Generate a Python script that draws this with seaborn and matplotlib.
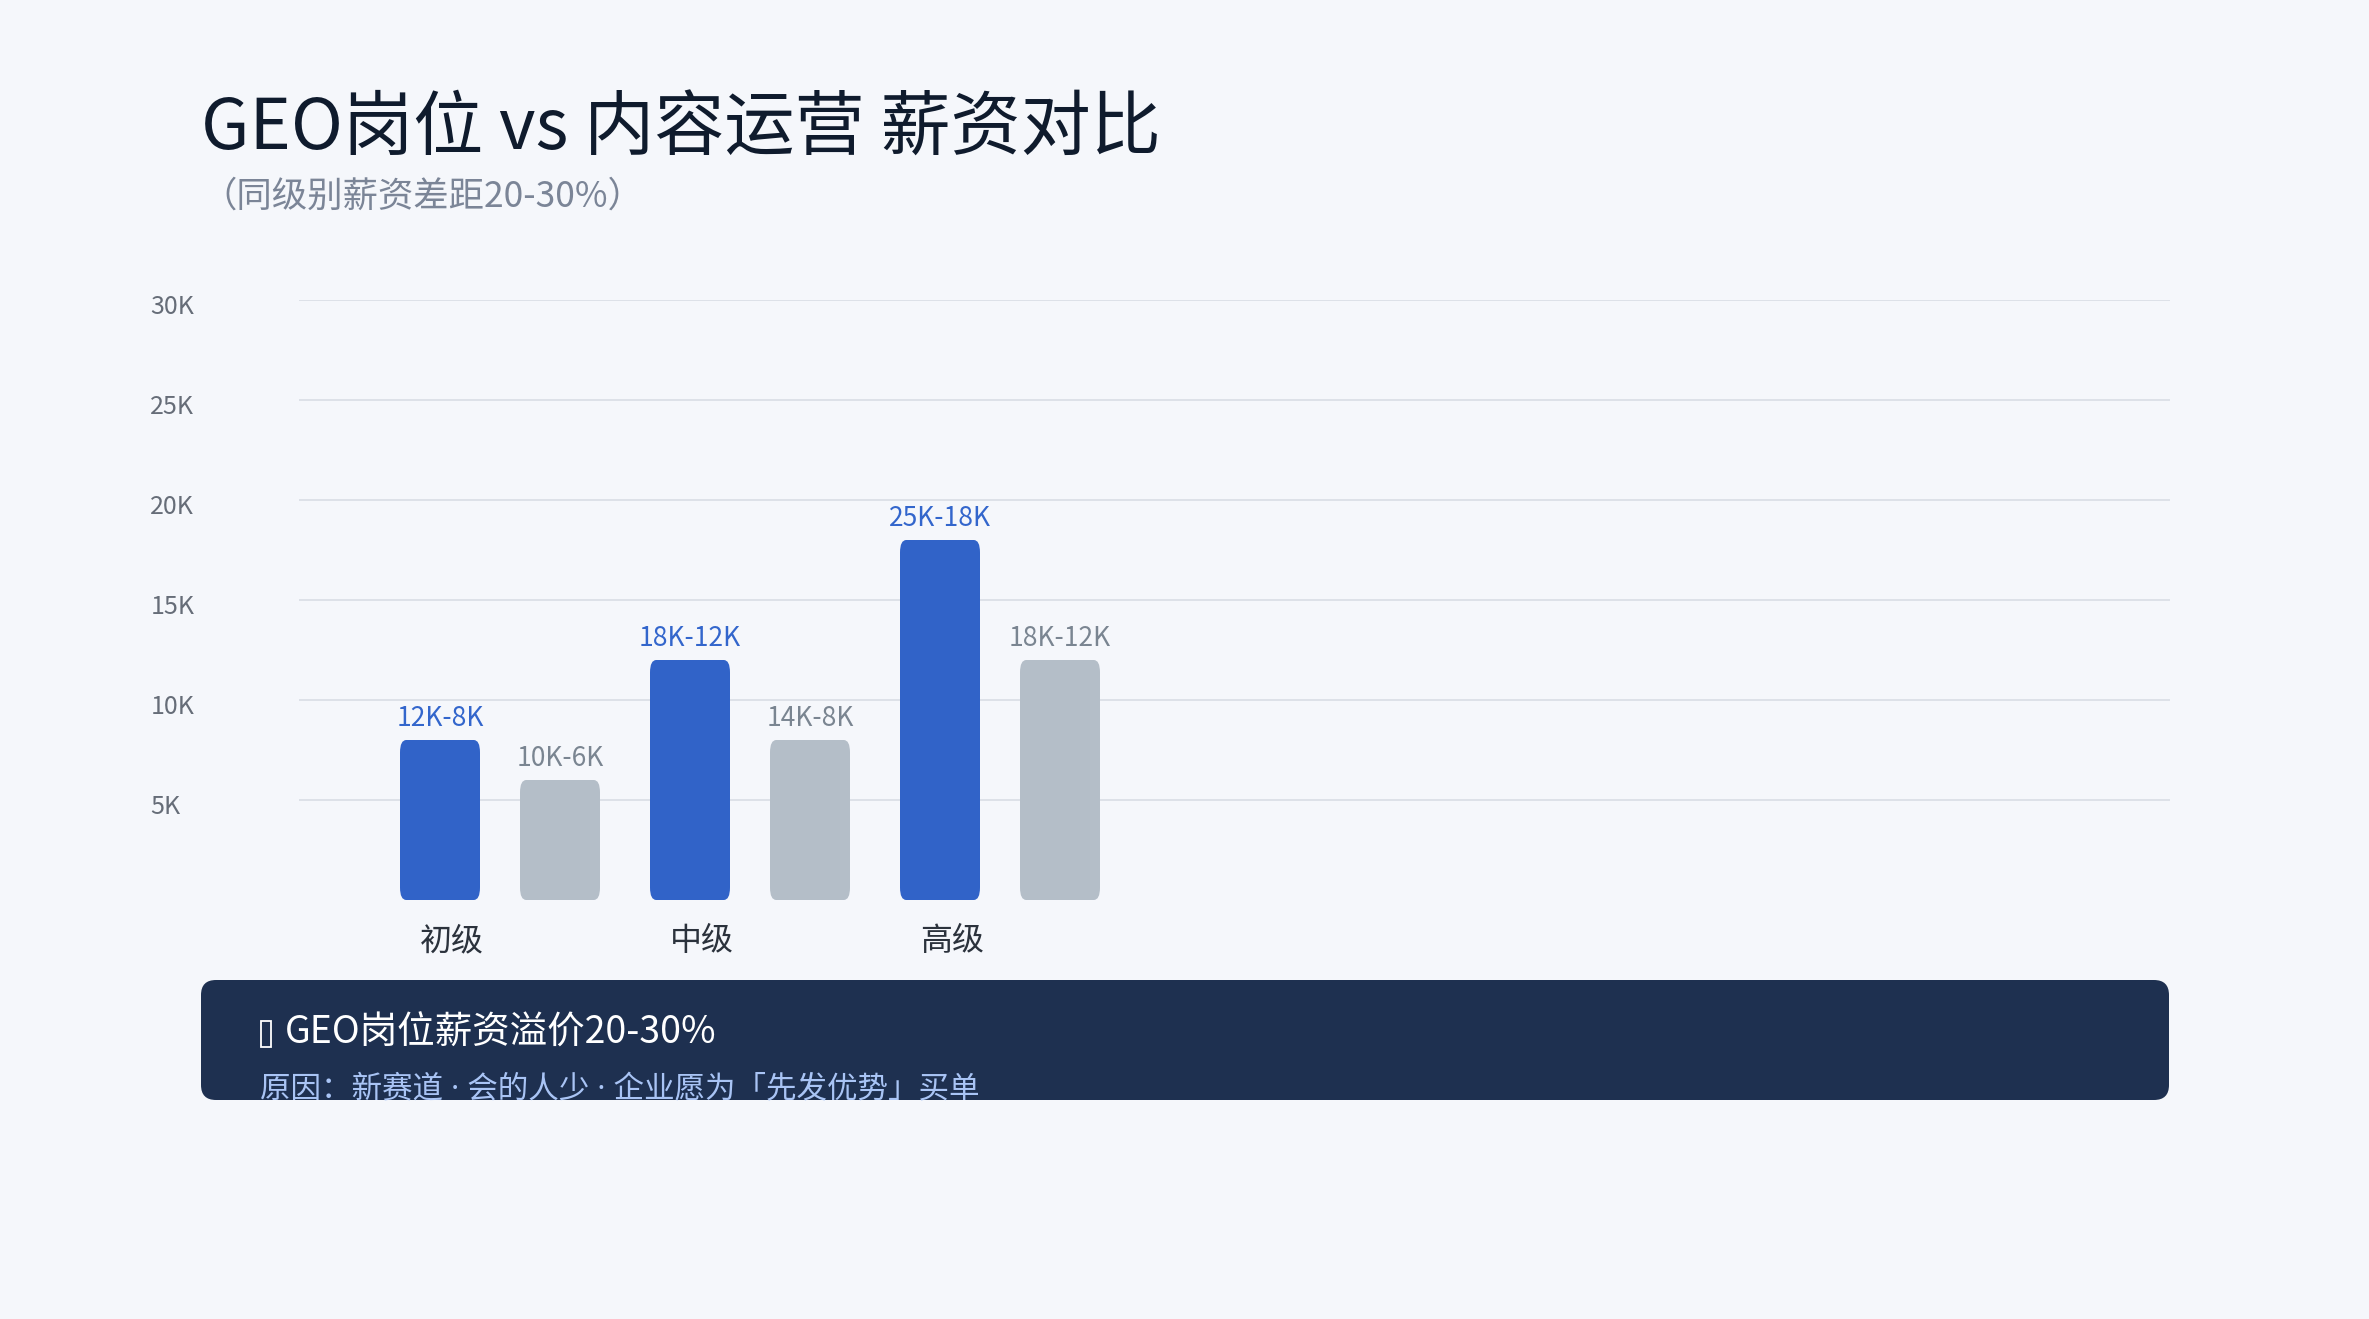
import pandas as pd
import numpy as np
import matplotlib
matplotlib.use('Agg')
import matplotlib.pyplot as plt
import seaborn as sns
from matplotlib.patches import FancyBboxPatch, Rectangle
from matplotlib.transforms import ScaledTranslation

# Data

levels = ['初级', '中级', '高级']
roles = ['GEO岗位', '内容运营']
geo_low = [8, 12, 18]
ops_low = [6, 8, 12]
geo_labels = ['12K-8K', '18K-12K', '25K-18K']
ops_labels = ['10K-6K', '14K-8K', '18K-12K']
y_ticks = [5, 10, 15, 20, 25, 30]
y_tick_labels = ['5K', '10K', '15K', '20K', '25K', '30K']

title = 'GEO岗位 vs 内容运营 薪资对比'
subtitle = '（同级别薪资差距20-30%）'
note_title = 'GEO岗位薪资溢价20-30%'
note_text = '原因：新赛道 · 会的人少 · 企业愿为「先发优势」买单'

df = pd.DataFrame({
    'level': levels * 2,
    'role': [roles[0]] * 3 + [roles[1]] * 3,
    'salary': geo_low + ops_low,
    'label': geo_labels + ops_labels,
})

# Style

bg = '#f5f7fb'
blue = '#3163c8'
gray = '#b4bec8'

sns.set_theme(style='white')
plt.rcParams['font.family'] = ['Noto Sans CJK SC', 'DejaVu Sans']
latin_first = ['Noto Sans', 'Noto Sans CJK SC']

W, H = 2369, 1319
fig = plt.figure(figsize=(W / 100, H / 100), dpi=100, facecolor=bg)
ax = fig.add_axes([299 / W, 1 - 900 / H, (2170 - 299) / W, 600 / H])
ax.set_facecolor(bg)

sns.barplot(data=df, x='level', y='salary', hue='role', order=levels, hue_order=roles,
            palette=[blue, gray], saturation=1, width=0.96, gap=1 / 3,
            legend=False, ax=ax)

# round the bar corners
for bar in list(ax.patches):
    x0, y0 = bar.get_x(), bar.get_y()
    w, h = bar.get_width(), bar.get_height()
    rb = FancyBboxPatch((x0, y0), w, h, boxstyle='round,pad=0,rounding_size=0.025',
                        mutation_aspect=25, facecolor=bar.get_facecolor(),
                        edgecolor='none', zorder=3)
    bar.set_visible(False)
    ax.add_patch(rb)

# value labels
for i, lv in enumerate(levels):
    sub = df[df['level'] == lv]
    for j, role in enumerate(roles):
        row = sub[sub['role'] == role].iloc[0]
        xpos = i + (-0.24 if j == 0 else 0.24)
        ax.annotate(row['label'], (xpos, row['salary']), xytext=(0, 6),
                    textcoords='offset points', ha='center', va='bottom',
                    fontsize=19, color=('#3366cc' if j == 0 else '#7a8591'))

ax.set_xlim(-0.804, 6.68)
ax.set_ylim(0, 30)
ax.set_yticks(y_ticks)
ax.set_yticklabels(y_tick_labels)
ax.yaxis.grid(True, color='#dde1e8', linewidth=1.4)
ax.set_axisbelow(True)
for s in ax.spines.values():
    s.set_visible(False)
ax.set_xlabel('')
ax.set_ylabel('')
ax.tick_params(axis='y', length=0, pad=107, labelsize=18, labelcolor='#666d78')
ax.tick_params(axis='x', length=0, pad=18, labelsize=23, labelcolor='#2b323c')
for lab in ax.get_yticklabels():
    lab.set_horizontalalignment('left')
    lab.set_transform(lab.get_transform() + ScaledTranslation(0, -0.04, fig.dpi_scale_trans))
for lab in ax.get_xticklabels():
    lab.set_transform(lab.get_transform() + ScaledTranslation(-0.48, 0, fig.dpi_scale_trans))

# overlay for titles and note box
ov = fig.add_axes([0, 0, 1, 1], facecolor='none')
ov.set_xlim(0, W)
ov.set_ylim(H, 0)
ov.axis('off')

ov.text(201, 130, title, fontsize=50.5, color='#0f1b2d', va='center', ha='left')
ov.text(201, 197, subtitle, fontsize=25.5, color='#7b8597', va='center', ha='left')

box = FancyBboxPatch((201, 980), 1968, 120, boxstyle='round,pad=0,rounding_size=15',
                     facecolor='#1e3050', edgecolor='none')
ov.add_patch(box)
# missing-glyph box in front of the note title
ov.add_patch(Rectangle((261, 1021), 10, 26, facecolor='none', edgecolor='white', linewidth=1.3))
t1 = ov.text(285, 1033, note_title, fontsize=27, color='white', va='center', ha='left')
t2 = ov.text(260, 1090, note_text, fontsize=22, color='#a9c4f5', va='center', ha='left',
             family=latin_first)
t1.set_clip_path(box)
t2.set_clip_path(box)

fig.savefig('out.png', dpi=100, facecolor=bg)
